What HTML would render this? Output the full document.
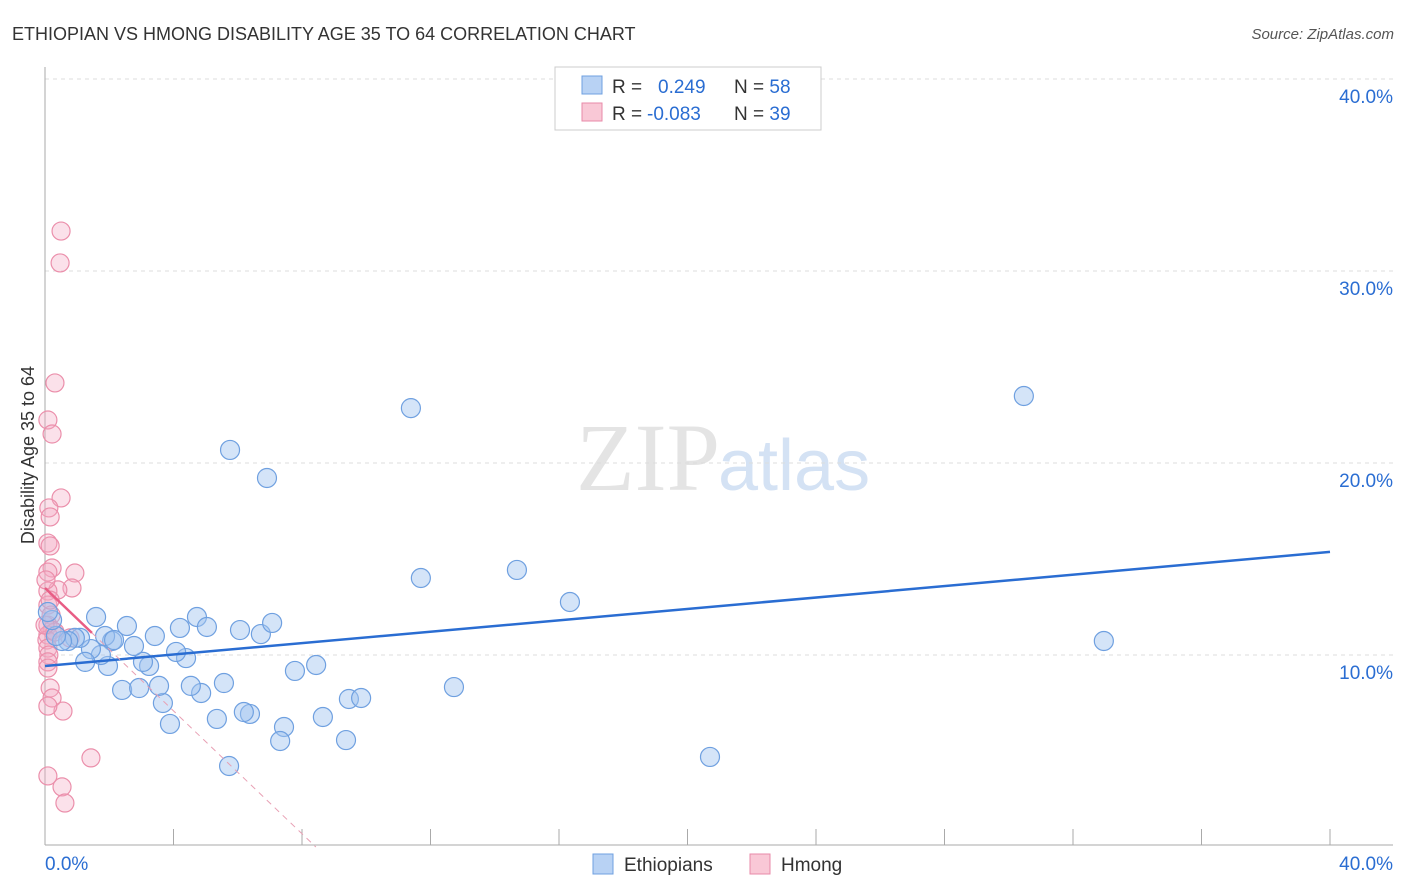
<!DOCTYPE html>
<html><head><meta charset="utf-8"><style>
body{margin:0;background:#fff;font-family:"Liberation Sans",sans-serif}
svg{display:block}
</style></head><body>
<svg id="chart" width="1406" height="892">
<text x="12" y="40" font-size="18" fill="#333">ETHIOPIAN VS HMONG DISABILITY AGE 35 TO 64 CORRELATION CHART</text>
<text x="1394" y="39" font-size="15" fill="#555" font-style="italic" text-anchor="end">Source: ZipAtlas.com</text>
<text x="720" y="490" font-size="96" fill="#e4e4e4" text-anchor="end" font-family="Liberation Serif,serif">ZIP</text>
<text x="718" y="490" font-size="72" fill="#d4e2f4">atlas</text>
<g id="grid"></g>
<g id="axes"></g>
<g id="pts"></g>
<g id="trend"></g>
<text x="34" y="455" font-size="18" fill="#333" text-anchor="middle" transform="rotate(-90 34 455)">Disability Age 35 to 64</text>
<g>
<rect x="555" y="67" width="266" height="63" fill="#fff" stroke="#ccc"/>
<rect x="582" y="76" width="20" height="18" fill="#b8d2f4" stroke="#6fa0e0"/>
<rect x="582" y="103" width="20" height="18" fill="#f9c8d6" stroke="#e88aa8"/>
<text x="612" y="93" font-size="19" fill="#333">R = <tspan fill="#2a6dd2" x="658">0.249</tspan><tspan x="734" fill="#333">N = </tspan><tspan fill="#2a6dd2">58</tspan></text>
<text x="612" y="120" font-size="19" fill="#333">R = <tspan fill="#2a6dd2" x="647">-0.083</tspan><tspan x="734" fill="#333">N = </tspan><tspan fill="#2a6dd2">39</tspan></text>
</g>
<g>
<rect x="593" y="854" width="20" height="20" fill="#b8d2f4" stroke="#6fa0e0"/>
<text x="624" y="871" font-size="19" fill="#333">Ethiopians</text>
<rect x="750" y="854" width="20" height="20" fill="#f9c8d6" stroke="#e88aa8"/>
<text x="781" y="871" font-size="19" fill="#333">Hmong</text>
</g>
</svg>
<script>
const yTicks=[10,20,30,40];
const xTickLabels=["0.0%","40.0%"];
const blueX=[1.59,2.55,3.42,4.20,4.73,5.04,6.07,6.72,7.07,5.76,6.91,11.39,11.70,14.69,16.34,30.47,32.96,20.70,12.73,9.46,9.84,9.37,8.65,8.44,7.78,7.44,7.32,6.38,6.19,5.73,5.35,5.57,4.86,4.54,4.39,4.08,3.89,3.67,3.55,3.24,3.05,2.77,2.40,2.93,2.09,1.96,1.74,1.43,1.25,1.09,0.93,0.72,0.53,0.34,0.22,0.09,1.87,2.15];
const blueY=[11.98,11.51,10.99,11.41,11.98,11.46,11.30,11.09,11.67,20.68,19.22,22.86,14.01,14.43,12.76,23.49,10.73,4.69,8.33,7.71,7.76,5.57,6.77,9.48,9.17,6.25,5.52,6.93,7.03,4.22,6.67,8.54,8.02,8.39,9.84,10.16,6.41,7.50,8.39,9.43,9.64,10.47,8.18,8.28,10.73,9.43,10.00,10.31,9.64,10.89,10.89,10.73,10.73,10.99,11.82,12.24,10.99,10.78];
const pinkX=[0.50,0.47,0.31,0.09,0.22,0.50,0.12,0.16,0.09,0.16,0.22,0.09,0.93,0.84,0.40,0.09,0.09,0.19,0.09,0.22,0.09,0.06,0.09,0.12,0.09,0.09,0.16,0.22,0.56,0.09,1.43,0.09,0.53,0.62,0.78,0.31,0.00,0.16,0.03];
const pinkY=[32.08,30.42,24.17,22.24,21.51,18.18,17.66,17.19,15.83,15.68,14.53,14.32,14.27,13.49,13.39,13.33,12.60,12.08,11.56,11.30,11.04,10.78,10.36,10.00,9.64,9.32,8.28,7.76,7.08,7.34,4.64,3.70,3.13,2.29,10.89,11.20,11.56,12.86,13.91];
const blueTrend=[9.43,15.37];
const pinkTrend=[13.49,-1.6];
const NS="http://www.w3.org/2000/svg";
const sx=v=>45+v*32.125, sy=v=>847-v*19.2;
function mk(p,t,a){const e=document.createElementNS(NS,t);for(const k in a)e.setAttribute(k,a[k]);p.appendChild(e);return e;}
const grid=document.getElementById('grid'),axes=document.getElementById('axes'),pts=document.getElementById('pts'),tr=document.getElementById('trend');
yTicks.forEach(v=>{
 const l=mk(grid,'line',{x1:45,x2:1393,y1:sy(v),y2:sy(v),stroke:'#ddd','stroke-dasharray':'4,4'});
 
 
 const t=mk(grid,'text',{x:1393,y:sy(v)+24,'font-size':19,fill:'#2a6dd2','text-anchor':'end'});
 t.textContent=v.toFixed(1)+'%';
 
 
});
const ya=mk(axes,'line',{x1:45,x2:45,y1:67,y2:845,stroke:'#aaa'});


const xa=mk(axes,'line',{x1:45,x2:1393,y1:845,y2:845,stroke:'#aaa'});


for(let i=1;i<=10;i++){const tk=mk(axes,'line',{x1:sx(i*4),x2:sx(i*4),y1:829,y2:845,stroke:'#aaa'});
 
 }
[[0,'start',45],[40,'end',1393]].forEach((d,i)=>{const t=mk(axes,'text',{x:d[2],y:870,'font-size':19,fill:'#2a6dd2','text-anchor':d[1]});t.textContent=xTickLabels[i];
 
 });
pinkX.forEach((x,i)=>{const c=mk(pts,'circle',{cx:sx(x),cy:sy(pinkY[i]),r:9,fill:'rgba(244,170,195,0.35)',stroke:'#eb8fab','stroke-width':1.2});
 
 });
blueX.forEach((x,i)=>{const c=mk(pts,'circle',{cx:sx(x),cy:sy(blueY[i]),r:9.5,fill:'rgba(160,196,240,0.45)',stroke:'#6fa0e0','stroke-width':1.2});
 
 });
const bl=mk(tr,'line',{x1:sx(0),y1:sy(blueTrend[0]),x2:sx(40),y2:sy(blueTrend[0]+(blueTrend[1]-blueTrend[0])),stroke:'#2a6dd2','stroke-width':2.5});


const xEnd=-pinkTrend[0]/pinkTrend[1];
const pd=mk(tr,'line',{x1:sx(1.46),y1:sy(pinkTrend[0]+pinkTrend[1]*1.46),x2:sx(xEnd),y2:sy(0),stroke:'#e8a0b4','stroke-width':1,'stroke-dasharray':'6,5'});


const ps=mk(tr,'line',{x1:sx(0),y1:sy(pinkTrend[0]),x2:sx(1.46),y2:sy(pinkTrend[0]+pinkTrend[1]*1.46),stroke:'#e85d85','stroke-width':2.5});


</script>
</body></html>
